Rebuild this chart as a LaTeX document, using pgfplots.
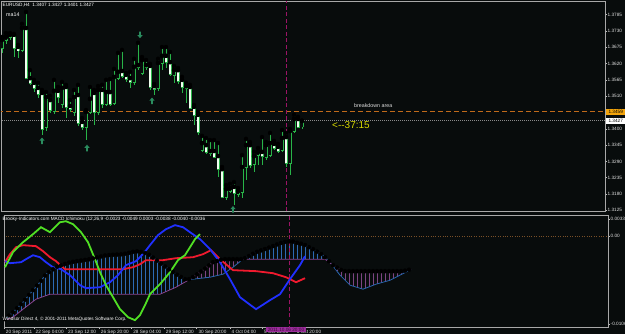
\documentclass[border=0pt]{standalone}
\usepackage{fontspec}
\setmainfont{Liberation Sans}
\usepackage{pgfplots}
\pgfplotsset{compat=1.18}
\usepackage{pgfplotstable}

\definecolor{bg}{HTML}{080C0C}
\definecolor{axc}{HTML}{A8A8A8}
\definecolor{tickc}{HTML}{C0C0C0}
\definecolor{labc}{HTML}{E0E0E0}
\definecolor{candc}{HTML}{28B448}
\definecolor{bodyw}{HTML}{F0FFF0}
\definecolor{arrc}{HTML}{2A8C5E}
\definecolor{orangec}{HTML}{C06A1A}
\definecolor{bidc}{HTML}{8A8A8A}
\definecolor{magc}{HTML}{9C1466}
\definecolor{blueL}{HTML}{2030FF}
\definecolor{redL}{HTML}{F01A2E}
\definecolor{greenL}{HTML}{50E024}
\definecolor{cloudA}{HTML}{2A66B0}
\definecolor{cloudB}{HTML}{8A4490}
\definecolor{hatchb}{HTML}{2D6AB4}
\definecolor{hatchm}{HTML}{7E4482}
\definecolor{levc}{HTML}{7A5028}
\definecolor{yelc}{HTML}{D8D800}
\definecolor{orlab}{HTML}{F2A40C}
\definecolor{magbox}{HTML}{9B2D9B}
\definecolor{magtxt}{HTML}{3B0A3B}

\newcommand\tf{\fontsize{4.7bp}{5.6bp}\selectfont}
\newcommand\tfb{\fontsize{5.3bp}{6.2bp}\selectfont}

\pgfdeclareplotmark{mtup}{%
 \pgfpathmoveto{\pgfqpoint{-2.6bp}{0.3bp}}%
 \pgfpathlineto{\pgfqpoint{0bp}{3.4bp}}%
 \pgfpathlineto{\pgfqpoint{2.6bp}{0.3bp}}%
 \pgfpathlineto{\pgfqpoint{0.9bp}{0.3bp}}%
 \pgfpathlineto{\pgfqpoint{0.9bp}{-3.2bp}}%
 \pgfpathlineto{\pgfqpoint{-0.9bp}{-3.2bp}}%
 \pgfpathlineto{\pgfqpoint{-0.9bp}{0.3bp}}%
 \pgfpathclose\pgfusepathqfill}
\pgfdeclareplotmark{mtdown}{%
 \pgfpathmoveto{\pgfqpoint{-2.6bp}{-0.3bp}}%
 \pgfpathlineto{\pgfqpoint{0bp}{-3.4bp}}%
 \pgfpathlineto{\pgfqpoint{2.6bp}{-0.3bp}}%
 \pgfpathlineto{\pgfqpoint{0.9bp}{-0.3bp}}%
 \pgfpathlineto{\pgfqpoint{0.9bp}{3.2bp}}%
 \pgfpathlineto{\pgfqpoint{-0.9bp}{3.2bp}}%
 \pgfpathlineto{\pgfqpoint{-0.9bp}{-0.3bp}}%
 \pgfpathclose\pgfusepathqfill}

% bullish candles (close above open)
\pgfplotstableread{
x o h l c
0 1.3673 1.3710 1.3656 1.3700
1 1.3700 1.3723 1.3686 1.3710
2 1.3710 1.3723 1.3700 1.3717
5 1.3666 1.3754 1.3659 1.3740
11 1.3406 1.3524 1.3393 1.3507
13 1.3460 1.3565 1.3450 1.3528
15 1.3484 1.3558 1.3470 1.3538
18 1.3457 1.3531 1.3443 1.3507
21 1.3406 1.3463 1.3362 1.3457
22 1.3457 1.3541 1.3450 1.3501
24 1.3457 1.3544 1.3447 1.3531
26 1.3484 1.3565 1.3477 1.3524
28 1.3487 1.3602 1.3480 1.3575
29 1.3571 1.3656 1.3565 1.3592
33 1.3558 1.3636 1.3548 1.3609
35 1.3588 1.3642 1.3582 1.3632
39 1.3538 1.3636 1.3528 1.3622
40 1.3622 1.3676 1.3598 1.3646
43 1.3582 1.3612 1.3555 1.3598
50 1.3328 1.3376 1.3322 1.3352
52 1.3318 1.3362 1.3308 1.3325
56 1.3170 1.3210 1.3160 1.3197
57 1.3190 1.3214 1.3183 1.3200
59 1.3180 1.3200 1.3170 1.3190
60 1.3187 1.3311 1.3167 1.3271
61 1.3271 1.3366 1.3227 1.3345
63 1.3281 1.3322 1.3254 1.3308
64 1.3311 1.3335 1.3278 1.3322
66 1.3305 1.3355 1.3295 1.3345
67 1.3311 1.3386 1.3305 1.3352
70 1.3328 1.3396 1.3322 1.3369
72 1.3285 1.3399 1.3244 1.3393
73 1.3393 1.3447 1.3386 1.3433
75 1.3407 1.3427 1.3401 1.3427
}\bull

% bearish candles (close below open)
\pgfplotstableread{
x o h l c
3 1.3717 1.3720 1.3642 1.3673
4 1.3676 1.3683 1.3639 1.3663
6 1.3740 1.3794 1.3568 1.3571
7 1.3571 1.3598 1.3548 1.3555
8 1.3555 1.3565 1.3524 1.3538
9 1.3538 1.3555 1.3504 1.3517
10 1.3521 1.3531 1.3379 1.3399
12 1.3497 1.3511 1.3453 1.3463
14 1.3528 1.3541 1.3487 1.3507
16 1.3541 1.3548 1.3436 1.3474
17 1.3477 1.3497 1.3457 1.3467
19 1.3514 1.3548 1.3409 1.3420
20 1.3423 1.3436 1.3396 1.3406
23 1.3521 1.3531 1.3413 1.3457
25 1.3531 1.3548 1.3470 1.3484
27 1.3524 1.3568 1.3477 1.3484
30 1.3595 1.3666 1.3571 1.3578
31 1.3582 1.3588 1.3558 1.3568
32 1.3571 1.3592 1.3538 1.3558
34 1.3615 1.3690 1.3598 1.3609
36 1.3615 1.3632 1.3598 1.3609
37 1.3612 1.3619 1.3531 1.3541
38 1.3544 1.3551 1.3514 1.3534
41 1.3646 1.3676 1.3605 1.3625
42 1.3625 1.3659 1.3578 1.3585
44 1.3598 1.3605 1.3551 1.3561
45 1.3565 1.3575 1.3521 1.3541
46 1.3544 1.3555 1.3487 1.3538
47 1.3541 1.3548 1.3467 1.3470
48 1.3474 1.3480 1.3413 1.3447
49 1.3447 1.3457 1.3379 1.3389
51 1.3345 1.3369 1.3315 1.3322
53 1.3325 1.3362 1.3301 1.3305
54 1.3308 1.3352 1.3237 1.3264
55 1.3264 1.3271 1.3167 1.3170
58 1.3204 1.3220 1.3143 1.3183
62 1.3345 1.3355 1.3268 1.3278
65 1.3322 1.3372 1.3278 1.3308
68 1.3349 1.3359 1.3328 1.3335
69 1.3339 1.3349 1.3318 1.3325
71 1.3372 1.3386 1.3271 1.3285
74 1.3433 1.3440 1.3403 1.3406
}\bear

\pgfplotstableread{
x v
0 -0.00228
1.25 -0.00255
4 -0.00242
5.25 -0.00202
7 -0.00150
8.75 -0.00176
10.25 -0.00242
12 -0.00308
14 -0.00334
16.25 -0.00413
18.75 -0.00545
20.25 -0.00585
23.75 -0.00572
26.25 -0.00506
28.25 -0.00413
30.25 -0.00281
32.75 -0.00228
34.5 -0.00136
36.25 -0.00017
38.25 0.00115
40.25 0.00194
42.5 0.00247
44.5 0.00220
46.25 0.00154
48.75 0.00062
51.25 -0.00070
53.75 -0.00242
56.25 -0.00466
58.75 -0.00704
62.75 -0.00862
66.25 -0.00743
68.75 -0.00664
71.25 -0.00466
73.75 -0.00281
75 -0.00162
}\blueT

\pgfplotstableread{
x v
0 -0.00242
1.25 -0.00136
2.75 -0.00044
4.5 -0.00017
7.75 -0.00030
9.5 -0.00096
11.25 -0.00176
12.75 -0.00228
15 -0.00334
17 -0.00334
29.5 -0.00334
32 -0.00308
33.75 -0.00268
35.25 -0.00215
39.5 -0.00215
42.75 -0.00189
47 -0.00176
49.5 -0.00136
51.5 -0.00083
53.75 -0.00202
57 -0.00347
62.75 -0.00360
67 -0.00387
70.25 -0.00440
72.75 -0.00506
75 -0.00453
}\redT

\pgfplotstableread{
x v
0 -0.00308
2 -0.00110
4.5 0.00022
7 0.00128
9 0.00220
11.25 0.00154
13.75 0.00286
15.25 0.00299
17 0.00260
19 0.00154
20.75 0.00022
22.5 -0.00202
23.75 -0.00374
25.25 -0.00545
27 -0.00704
28.75 -0.00862
30.75 -0.00968
32.5 -0.01007
33.75 -0.00941
35 -0.00809
36.25 -0.00664
38.75 -0.00532
41.25 -0.00374
43.25 -0.00215
45 -0.00149
46.25 -0.00044
47.5 0.00062
48.75 0.00128
}\greenT

\pgfplotstableread{
x v
0 -0.00994
2 -0.00902
4.5 -0.00770
7 -0.00611
8.75 -0.00506
10.25 -0.00400
12.75 -0.00308
16.25 -0.00242
21.25 -0.00202
25.25 -0.00150
29.5 -0.00136
32.75 -0.00096
34.5 -0.00110
36.25 -0.00150
39.5 -0.00281
42.75 -0.00400
45 -0.00466
47 -0.00466
51.25 -0.00440
54.5 -0.00400
57 -0.00308
59.5 -0.00202
62.75 -0.00110
66.25 -0.00044
69.5 0.00022
71.25 0.00035
74.5 -0.00004
77 -0.00070
79.5 -0.00150
81.25 -0.00242
83.75 -0.00413
86.25 -0.00545
89.5 -0.00598
92.75 -0.00532
96.25 -0.00480
98.75 -0.00413
101.5 -0.00340
}\cloudAT

\pgfplotstableread{
x v
0 -0.01007
2 -0.00968
4.5 -0.00862
7.75 -0.00730
11.25 -0.00664
38.75 -0.00664
42.75 -0.00572
46.25 -0.00466
49.5 -0.00347
52 -0.00242
54.5 -0.00202
80 -0.00202
82 -0.00281
84.5 -0.00360
99.5 -0.00360
101.5 -0.00334
}\cloudBT

% cloud hatch, one line per bar: t = upper span, b = lower span
\pgfplotstableread{
x t b
0 -0.00994 -0.01007
1 -0.00948 -0.00988
2 -0.00902 -0.00968
3 -0.00849 -0.00926
4 -0.00796 -0.00883
5 -0.00738 -0.00842
6 -0.00675 -0.00801
7 -0.00611 -0.00760
8 -0.00551 -0.00725
9 -0.00488 -0.00707
10 -0.00418 -0.00688
11 -0.00372 -0.00669
12 -0.00336 -0.00664
13 -0.00303 -0.00664
14 -0.00284 -0.00664
15 -0.00265 -0.00664
16 -0.00247 -0.00664
17 -0.00236 -0.00664
18 -0.00228 -0.00664
19 -0.00220 -0.00664
20 -0.00212 -0.00664
21 -0.00204 -0.00664
22 -0.00192 -0.00664
23 -0.00179 -0.00664
24 -0.00166 -0.00664
25 -0.00153 -0.00664
26 -0.00148 -0.00664
27 -0.00144 -0.00664
28 -0.00141 -0.00664
29 -0.00138 -0.00664
30 -0.00130 -0.00664
31 -0.00118 -0.00664
32 -0.00105 -0.00664
33 -0.00098 -0.00664
34 -0.00106 -0.00664
35 -0.00121 -0.00664
36 -0.00144 -0.00664
37 -0.00180 -0.00664
38 -0.00221 -0.00664
39 -0.00261 -0.00658
40 -0.00299 -0.00635
41 -0.00336 -0.00612
42 -0.00373 -0.00589
43 -0.00407 -0.00564
44 -0.00437 -0.00534
45 -0.00466 -0.00504
46 -0.00466 -0.00474
60 -0.00188 -0.00202
61 -0.00160 -0.00202
62 -0.00131 -0.00202
63 -0.00105 -0.00202
64 -0.00086 -0.00202
65 -0.00068 -0.00202
66 -0.00049 -0.00202
67 -0.00029 -0.00202
68 -0.00008 -0.00202
69 0.00012 -0.00202
70 0.00026 -0.00202
71 0.00033 -0.00202
72 0.00030 -0.00202
73 0.00014 -0.00202
74 0.00002 -0.00202
75 -0.00015 -0.00202
76 -0.00044 -0.00202
77 -0.00070 -0.00202
78 -0.00102 -0.00202
79 -0.00134 -0.00202
80 -0.00176 -0.00202
81 -0.00229 -0.00242
}\hatchBT

\pgfplotstableread{
x t b
47 -0.00439 -0.00466
48 -0.00402 -0.00460
49 -0.00365 -0.00454
50 -0.00326 -0.00448
51 -0.00284 -0.00442
52 -0.00242 -0.00428
53 -0.00226 -0.00418
54 -0.00210 -0.00406
55 -0.00202 -0.00382
56 -0.00202 -0.00345
57 -0.00202 -0.00308
58 -0.00202 -0.00266
59 -0.00202 -0.00223
82 -0.00281 -0.00293
83 -0.00313 -0.00362
84 -0.00344 -0.00426
85 -0.00360 -0.00479
86 -0.00360 -0.00532
87 -0.00360 -0.00557
88 -0.00360 -0.00574
89 -0.00360 -0.00590
90 -0.00360 -0.00588
91 -0.00360 -0.00568
92 -0.00360 -0.00547
93 -0.00360 -0.00528
94 -0.00360 -0.00513
95 -0.00360 -0.00499
96 -0.00360 -0.00484
97 -0.00360 -0.00460
98 -0.00360 -0.00433
99 -0.00360 -0.00406
100 -0.00354 -0.00380
101 -0.00341 -0.00353
}\hatchMT

\pgfplotsset{
  mtaxis/.style={
    scale only axis, width=604bp,
    xmin=-0.25, xmax=150.75,
    axis line style={draw=axc, line width=1bp},
    ytick pos=right, yticklabel pos=right,
    tick align=outside, major tick length=2bp,
    tick style={draw=tickc, line width=0.6bp},
    yticklabel style={font=\tf, text=labc, anchor=west, inner sep=0.5bp},
    scaled x ticks=false, scaled y ticks=false,
  },
  vseg/.style 2 args={only marks, mark=none, forget plot,
    error bars/.cd, y dir=both, y explicit, error mark=none,
    error bar style={draw=#1, color=#1, line width=#2}},
}

\begin{document}
\begin{tikzpicture}[x=1bp,y=1bp]
\useasboundingbox (0,0) rectangle (625,334);
\fill[bg] (0,0) rectangle (625,334);

% ---------------- MACD Ichimoku panel
\begin{axis}[mtaxis,
  at={(1,9)}, anchor=south west, height=111.5bp,
  ymin=-0.010996, ymax=0.003722,
  xtick={-0.25,7.2,15.3,23.5,31.6,39.75,47.9,56.2,64.3,72.5},
  xticklabels={20 Sep 2011,22 Sep 04:00,23 Sep 12:00,26 Sep 20:00,28 Sep 04:00,29 Sep 12:00,30 Sep 20:00,4 Oct 04:00,5 Oct 12:00,6 Oct 20:00},
  xtick pos=left,
  xticklabel style={font=\tf, text=labc, anchor=north west, inner sep=0.5bp, xshift=1.2bp},
  ytick={0.0033,0.00101,-0.0106},
  yticklabels={0.0033,0.00,-0.0106},
]
\addplot[levc, line width=0.6bp, dash pattern=on 0.8bp off 1.6bp, forget plot] coordinates {(-1,0.00101) (151,0.00101)};
\addplot[vseg={hatchb}{0.8bp}] table[x=x, y=t, y error plus expr=0, y error minus expr=\thisrow{t}-\thisrow{b}] {\hatchBT};
\addplot[vseg={hatchm}{0.8bp}] table[x=x, y=t, y error plus expr=0, y error minus expr=\thisrow{t}-\thisrow{b}] {\hatchMT};
\addplot[cloudA, line width=0.8bp, forget plot] table[x=x,y=v] {\cloudAT};
\addplot[cloudB, line width=0.8bp, forget plot] table[x=x,y=v] {\cloudBT};
\addplot[redL, line width=1.8bp, forget plot] table[x=x,y=v] {\redT};
\addplot[blueL, line width=1.8bp, forget plot] table[x=x,y=v] {\blueT};
\addplot[greenL, line width=1.8bp, forget plot] table[x=x,y=v] {\greenT};
\addplot[magc, line width=0.9bp, dash pattern=on 4bp off 2.5bp, forget plot] coordinates {(71.1,-0.02) (71.1,0.01)};
\end{axis}

% ---------------- price panel (prices are shifted by -1.3 inside the axis)
\begin{scope}[shift={(1bp,122.5bp)}]
\begin{axis}[mtaxis,
  at={(0,0)}, anchor=south west, height=210bp,
  y filter/.expression={y-1.3},
  ymin=0.01210, ymax=0.08295,
  xtick=\empty,
  ytick={0.0785,0.0730,0.0675,0.0620,0.0565,0.0510,0.0400,0.0345,0.0290,0.0235,0.0180,0.0125},
  yticklabels={1.3785,1.3730,1.3675,1.3620,1.3565,1.3510,1.3400,1.3345,1.3290,1.3235,1.3180,1.3125},
]
\addplot[orangec, line width=1bp, dash pattern=on 5bp off 3bp, forget plot] coordinates {(-1,1.3459) (151,1.3459)};
\addplot[bidc, line width=0.6bp, dash pattern=on 1bp off 1bp, forget plot] coordinates {(-1,1.3427) (151,1.3427)};
\addplot[magc, line width=0.9bp, dash pattern=on 4bp off 2.5bp, forget plot] coordinates {(71.1,1.31) (71.1,1.39)};

% wicks: from the high down to the low
\addplot[vseg={candc}{0.9bp}] table[x=x, y=h, y error plus expr=0, y error minus expr=\thisrow{h}-\thisrow{l}] {\bull};
\addplot[vseg={candc}{0.9bp}] table[x=x, y=h, y error plus expr=0, y error minus expr=\thisrow{h}-\thisrow{l}] {\bear};
% body outlines (slightly taller than the body)
\addplot[vseg={candc}{3bp}] table[x=x, y=c, y error plus expr=0.00022, y error minus expr=\thisrow{c}-\thisrow{o}+0.00022] {\bull};
\addplot[vseg={candc}{3bp}] table[x=x, y=o, y error plus expr=0.00022, y error minus expr=\thisrow{o}-\thisrow{c}+0.00022] {\bear};
% body interiors
\addplot[vseg={bg}{1.3bp}] table[x=x, y=c, y error plus expr=0, y error minus expr=\thisrow{c}-\thisrow{o}] {\bull};
\addplot[vseg={bodyw}{1.3bp}] table[x=x, y=o, y error plus expr=0, y error minus expr=\thisrow{o}-\thisrow{c}] {\bear};

\addplot[only marks, mark=mtup, color=arrc, forget plot] coordinates {(10,1.3359) (21.25,1.3335) (37.5,1.3494) (57.75,1.3128)};
\addplot[only marks, mark=mtdown, color=arrc, forget plot] coordinates {(34.5,1.3717)};
\end{axis}
\end{scope}

% ---------------- texts
\node[anchor=west, font=\tf, text=white, inner sep=0] at (2.5,329) {EURUSD,H4\ \ 1.3407 1.3427 1.3401 1.3427};
\node[anchor=west, font=\tfb, text=white, inner sep=0] at (6,319) {ma14};
\node[anchor=west, font=\tfb, text=labc, inner sep=0] at (354,228) {breakdown area};
\node[anchor=west, font=\fontsize{10bp}{12bp}\selectfont, text=yelc, inner sep=0] at (332,209) {<-\kern0pt-37:15};
\node[anchor=west, font=\tf, text=white, inner sep=0] at (2.5,115) {Brooky-Indicators.com MACD Ichimoku (12,26,9 -0.0023 -0.0049 0.0003 -0.0038 -0.0040 -0.0036};
\node[anchor=west, font=\tf, text=white, inner sep=0] at (2.5,14.5) {Windsor Direct 4, © 2001-2011 MetaQuotes Software Corp.};
\node[fill=magbox, text=magtxt, font=\tf, inner xsep=1bp, inner ysep=0.8bp, minimum width=40bp, anchor=center] at (286,4.5) {2011.10.06 20:00};
\node[fill=orlab, text=black, font=\tf, inner sep=0.5bp, anchor=west, minimum width=19bp, minimum height=5.5bp] at (606,222) {1.3459};
\node[fill=white, text=black, font=\tf, inner sep=0.5bp, anchor=west, minimum width=19bp, minimum height=5.5bp] at (606,213) {1.3427};
\end{tikzpicture}
\end{document}
